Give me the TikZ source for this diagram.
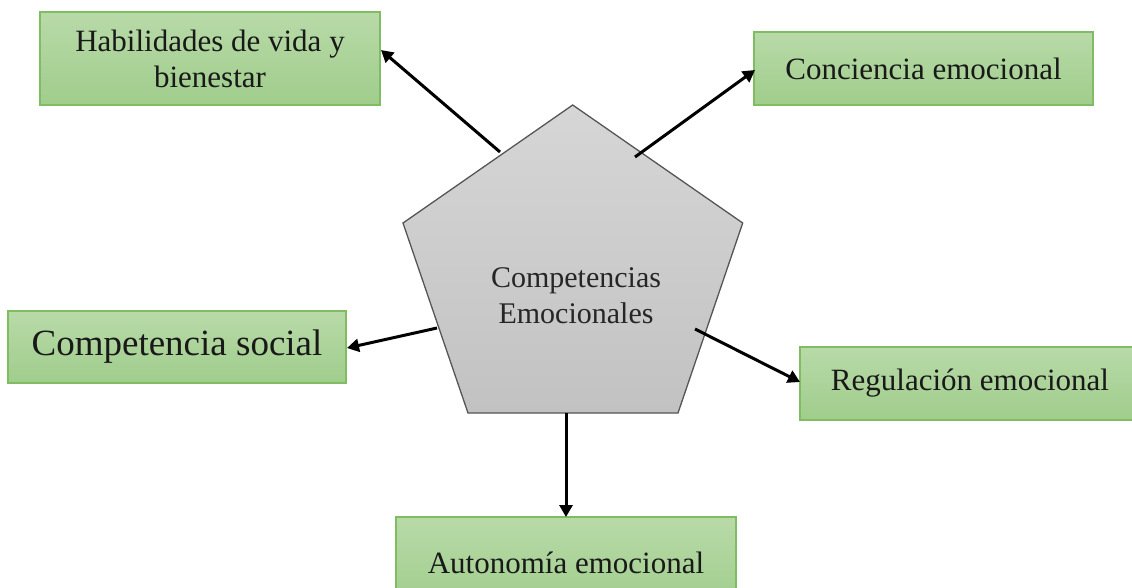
\documentclass[tikz,border=0pt]{standalone}
\usepackage{fontspec}
\setmainfont{Liberation Serif}
\usetikzlibrary{arrows.meta}
\definecolor{boxtop}{RGB}{184,218,168}
\definecolor{boxbot}{RGB}{160,205,140}
\definecolor{boxline}{RGB}{128,188,98}
\definecolor{pentop}{RGB}{214,214,214}
\definecolor{penbot}{RGB}{194,194,194}
\definecolor{penline}{RGB}{85,85,85}
\tikzset{
  gbox/.style={draw=boxline, line width=1.2pt, top color=boxtop, bottom color=boxbot,
    rectangle, inner sep=0pt, align=center, text=black!90,
    font=\fontsize{31}{36}\selectfont},
  arr/.style={line width=3pt, -{Triangle[length=12pt,width=13pt]}}
}
\begin{document}
\begin{tikzpicture}[x=1pt,y=-1pt]
\useasboundingbox (0,0) rectangle (1132,587);
\clip (0,0) rectangle (1132,587);
% pentagon
\coordinate (pT) at (572.7,105);
\coordinate (pL) at (403,223);
\coordinate (pR) at (742.7,223);
\coordinate (pBL) at (468,413);
\coordinate (pBR) at (678,413);
\path[draw=penline, line width=1.3pt, top color=pentop, bottom color=penbot]
  (pT) -- (pR) -- (pBR) -- (pBL) -- (pL) -- cycle;
\node[align=center, text=black!85, font=\fontsize{30}{36}\selectfont] (center) at (576,296)
  {Competencias\\Emocionales};
% boxes
\node[gbox, minimum width=340pt, minimum height=93pt] (hab) at (210,58.5)
  {Habilidades de vida y\\bienestar};
\node[gbox, minimum width=339pt, minimum height=73pt] (con) at (923.5,68.5)
  {Conciencia emocional};
\node[gbox, minimum width=338pt, minimum height=72pt, font=\fontsize{37}{42}\selectfont] (soc) at (177,347)
  {Competencia social};
\node[gbox, minimum width=340pt, minimum height=73pt] (reg) at (970,383.5)
  {Regulación emocional};
\node[gbox, minimum width=340pt, minimum height=92pt] (aut) at (566,563)
  {Autonomía emocional};
% arrow start points
\coordinate (s1) at (500,152);
\coordinate (s2) at (635,157);
\coordinate (s3) at (437,328);
\coordinate (s4) at (695,329);
\coordinate (s5) at (566,413);
% arrow tips
\coordinate (t1) at (381,50);
\coordinate (t2) at (755,70);
\coordinate (t3) at (347,348);
\coordinate (t4) at (800,382);
\coordinate (t5) at (566,517);
\draw[arr] (s1) -- (t1);
\draw[arr] (s2) -- (t2);
\draw[arr] (s3) -- (t3);
\draw[arr] (s4) -- (t4);
\draw[arr] (s5) -- (t5);
\end{tikzpicture}
\end{document}
